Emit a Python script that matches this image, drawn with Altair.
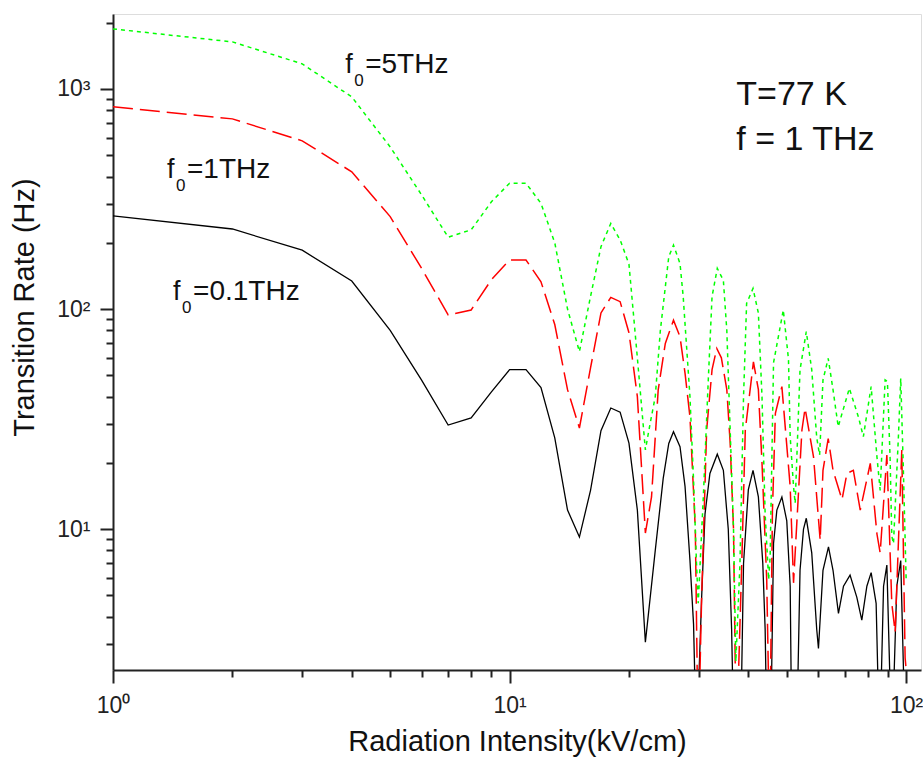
import altair as alt
import pandas as pd

# ---- data (x: kV/cm, y: Hz) ----
black_x = [1, 2, 3, 4, 5, 6, 7, 8, 9, 10, 11, 12, 13, 14, 15, 16, 17, 18, 19, 20, 21, 22,
           23.3, 24.4, 25.2, 25.9, 26.9, 27.7, 28.5, 29.1, 29.6, 30.5, 31.1, 32.0, 33.4, 34.6,
           35.6, 36.3, 36.8, 38.2, 38.9, 40.0, 41.1, 42.4, 43.5, 44.1, 44.6, 45.5, 46.3, 47.2,
           48.6, 50.0, 51.0, 51.5, 52.9, 54.0, 55.1, 56.0, 57.8, 59.5, 60.1, 61.7, 63.7, 65.4,
           67.5, 69.5, 72.2, 75.1, 77.3, 79.6, 81.6, 84.0, 85.7, 87.7, 89.4, 92.0, 94.7, 96.9,
           99.6, 100]
black_y = [265, 231, 185, 134, 80, 47.5, 29.7, 32, 42, 53, 53, 44, 26, 12.2, 9.2, 15, 28, 35.5, 34, 24.6, 12.2, 3.06,
           8, 17, 24.5, 27.7, 23.7, 15.6, 7.2, 3.7, 1, 4.9, 11.7, 17.9, 21.9, 18.5,
           10, 3.5, 1, 1, 7, 15.1, 18.5, 14, 7, 3.5, 1, 1, 8.6, 12.2,
           14.0, 10.9, 5.5, 1, 1, 6.5, 10, 11.2, 7.8, 3.5, 2.87, 6.5, 8.3, 6.5,
           4.14, 5.5, 6.18, 4.9, 3.86, 5.5, 6.34, 4.6, 1, 5.5, 6.86, 1, 5.5, 7.2,
           1, 1]

red_x = [1, 2, 3, 4, 5, 6, 7, 8, 9, 10, 11, 12, 13, 14, 15, 16, 17, 18, 19, 20, 21, 22,
         22.8, 23.7, 24.7, 25.9, 26.9, 27.7, 28.5, 29.4, 29.9, 30.5, 31.4, 32.4, 33.3, 34.2,
         35.3, 36.0, 36.7, 37.3, 38.5, 39.3, 41.2, 42.4, 43.3, 44.5, 45.3, 46.0, 46.8, 48.6,
         51.0, 52.0, 54.6, 55.6, 58.4, 60.7, 61.7, 63.6, 65.4, 68.9, 70.9, 73.6, 76.6, 81.2,
         84.4, 86.0, 89.4, 92.0, 93.8, 97.5, 99.4, 100]
red_y = [829, 731, 581, 420, 263, 153, 94, 99, 136, 167, 167, 133, 85, 43, 28.8, 54, 96, 113, 108, 78, 40, 9.6,
         14, 42.9, 69.8, 89, 74.8, 51, 32.3, 10, 1, 4.9, 28.2, 53, 66.2, 60,
         43, 24.5, 10, 1, 7, 28.2, 57.5, 43, 20, 5.9, 1, 12, 33.6, 44.4,
         15.6, 5.7, 28.2, 35.4, 21.3, 8.9, 18.5, 25.8, 18.5, 13.6, 17.9, 18.5, 12.2, 19.9,
         9.5, 7.8, 21.7, 4.6, 3.4, 22.9, 2.6, 2.3]

green_x = [1, 2, 3, 4, 5, 6, 7, 8, 9, 10, 11, 12, 13, 14, 15, 16, 17, 18, 19, 20, 21, 22,
           22.6, 23.3, 24.0, 25.2, 25.9, 26.9, 27.4, 28.5, 29.1, 29.6, 29.9, 30.8, 31.7, 32.4,
           33.4, 34.6, 35.3, 36.0, 36.7, 37.2, 38.1, 38.9, 39.6, 41.1, 42.4, 43.3, 44.1, 45.0,
           45.4, 46.3, 49.0, 50.5, 51.0, 52.0, 52.5, 54.0, 56.0, 57.8, 59.5, 60.5, 61.7, 63.6,
           65.4, 67.4, 71.9, 75.8, 78.0, 81.6, 84.4, 86.0, 88.5, 89.7, 91.1, 92.0, 92.9, 95.6,
           96.9, 98.4, 100]
green_y = [1874, 1636, 1300, 920, 545, 330, 212, 229, 307, 373, 373, 302, 200, 100, 64, 114, 192, 245, 206, 160, 60, 22.9,
           30, 40, 80, 173, 195, 161, 114, 40, 16.7, 7, 4.6, 14, 47.6, 114,
           153, 135, 80, 28, 10, 2.5, 7, 40, 106, 124, 95.8, 40, 11.7, 5.9,
           7.5, 57, 99, 59, 26.3, 15.6, 13.1, 53, 78.9, 53, 26, 21.7, 47.6, 59.7,
           43, 29.2, 43.6, 32.3, 26.3, 44.4, 21.3, 15, 47.6, 46.8, 21, 9.3, 8.6, 26.3,
           48.4, 18.5, 5.9]

curve_label_rest = ["=5THz", "=1THz", "=0.1THz"]
curve_label_x = [3.85, 1.368, 1.417]
curve_label_y = [1182, 394, 110]

note_text = ["T=77 K", "f = 1 THz"]
note_x = [37.3, 37.3]
note_y = [846, 528]

x_tick_values = [1, 2, 3, 4, 5, 6, 7, 8, 9, 10, 20, 30, 40, 50, 60, 70, 80, 90, 100]
y_tick_values = [3, 4, 5, 6, 7, 8, 9, 10, 20, 30, 40, 50, 60, 70, 80, 90,
                 100, 200, 300, 400, 500, 600, 700, 800, 900, 1000, 2000]
x_domain = [1, 109]
y_domain = [2.29, 2190]

FONT = "Liberation Sans"


def frame(xs, ys):
    return pd.DataFrame({"x": xs, "y": ys, "i": list(range(len(xs)))})


xscale = alt.Scale(type="log", domain=x_domain, nice=False)
yscale = alt.Scale(type="log", domain=y_domain, nice=False)

x_axis = alt.Axis(
    values=x_tick_values,
    labelExpr="datum.value == 1 ? '10\u2070' : datum.value == 10 ? '10\u00b9' : datum.value == 100 ? '10\u00b2' : ''",
    tickSize={"condition": {"test": "datum.value == 1 || datum.value == 10 || datum.value == 100", "value": 13}, "value": 7},
    tickWidth=2, tickColor="#222", domainColor="#222", domainWidth=2,
    labelFont=FONT, labelFontSize=23, labelColor="#222", labelPadding=11,
    labelOverlap=False, labelFlush=False, labelBound=False, grid=False,
    title="Radiation Intensity(kV/cm)", titleFont=FONT, titleFontSize=29,
    titleFontWeight="normal", titleColor="#111", titleBaseline="alphabetic",
    titleAlign="center", titleX=404, titleY=80,
)
y_axis = alt.Axis(
    values=y_tick_values,
    labelExpr="datum.value == 10 ? '10\u00b9' : datum.value == 100 ? '10\u00b2' : datum.value == 1000 ? '10\u00b3' : ''",
    tickSize={"condition": {"test": "datum.value == 10 || datum.value == 100 || datum.value == 1000", "value": 13}, "value": 7},
    tickWidth=2, tickColor="#222", domainColor="#222", domainWidth=2,
    labelFont=FONT, labelFontSize=23, labelColor="#222", labelPadding=10,
    labelOverlap=False, labelFlush=False, labelBound=False, grid=False,
    title="Transition Rate (Hz)", titleFont=FONT, titleFontSize=29,
    titleFontWeight="normal", titleColor="#111", titleBaseline="alphabetic",
    titleAlign="center", titleAngle=270, titleX=-80, titleY=293,
)

X = alt.X("x:Q", scale=xscale, axis=x_axis)
Y = alt.Y("y:Q", scale=yscale, axis=y_axis)

black = alt.Chart(frame(black_x, black_y)).mark_line(
    color="black", strokeWidth=1.3, clip=True
).encode(x=X, y=Y, order="i:Q")

red = alt.Chart(frame(red_x, red_y)).mark_line(
    color="#ff0000", strokeWidth=1.5, strokeDash=[20, 7], clip=True
).encode(x=X, y=Y, order="i:Q")

green = alt.Chart(frame(green_x, green_y)).mark_line(
    color="#00ff00", strokeWidth=1.5, strokeDash=[4, 4], clip=True
).encode(x=X, y=Y, order="i:Q")

lab_df = pd.DataFrame({"x": curve_label_x, "y": curve_label_y, "t": curve_label_rest})

lab_f = alt.Chart(lab_df).mark_text(
    align="left", baseline="alphabetic", font=FONT, fontSize=27, color="#111", dx=0
).encode(x=X, y=Y, text=alt.value("f"))
lab_0 = alt.Chart(lab_df).mark_text(
    align="left", baseline="alphabetic", font=FONT, fontSize=17, color="#111", dx=9, dy=13
).encode(x=X, y=Y, text=alt.value("0"))
lab_rest = alt.Chart(lab_df).mark_text(
    align="left", baseline="alphabetic", font=FONT, fontSize=28, color="#111", dx=20
).encode(x=X, y=Y, text="t:N")

note_df = pd.DataFrame({"x": note_x, "y": note_y, "t": note_text})
notes = alt.Chart(note_df).mark_text(
    align="left", baseline="alphabetic", font=FONT, fontSize=34, color="#111"
).encode(x=X, y=Y, text="t:N")

chart = alt.layer(black, red, green, lab_f, lab_0, lab_rest, notes).properties(
    width=808, height=656,
    padding={"left": 113, "top": 14, "right": 2, "bottom": 90},
    autosize=alt.AutoSizeParams(type="none"),
).configure_view(stroke=None).configure(background="white")

chart.save("out.html", embed_options={"renderer": "svg", "actions": False})
